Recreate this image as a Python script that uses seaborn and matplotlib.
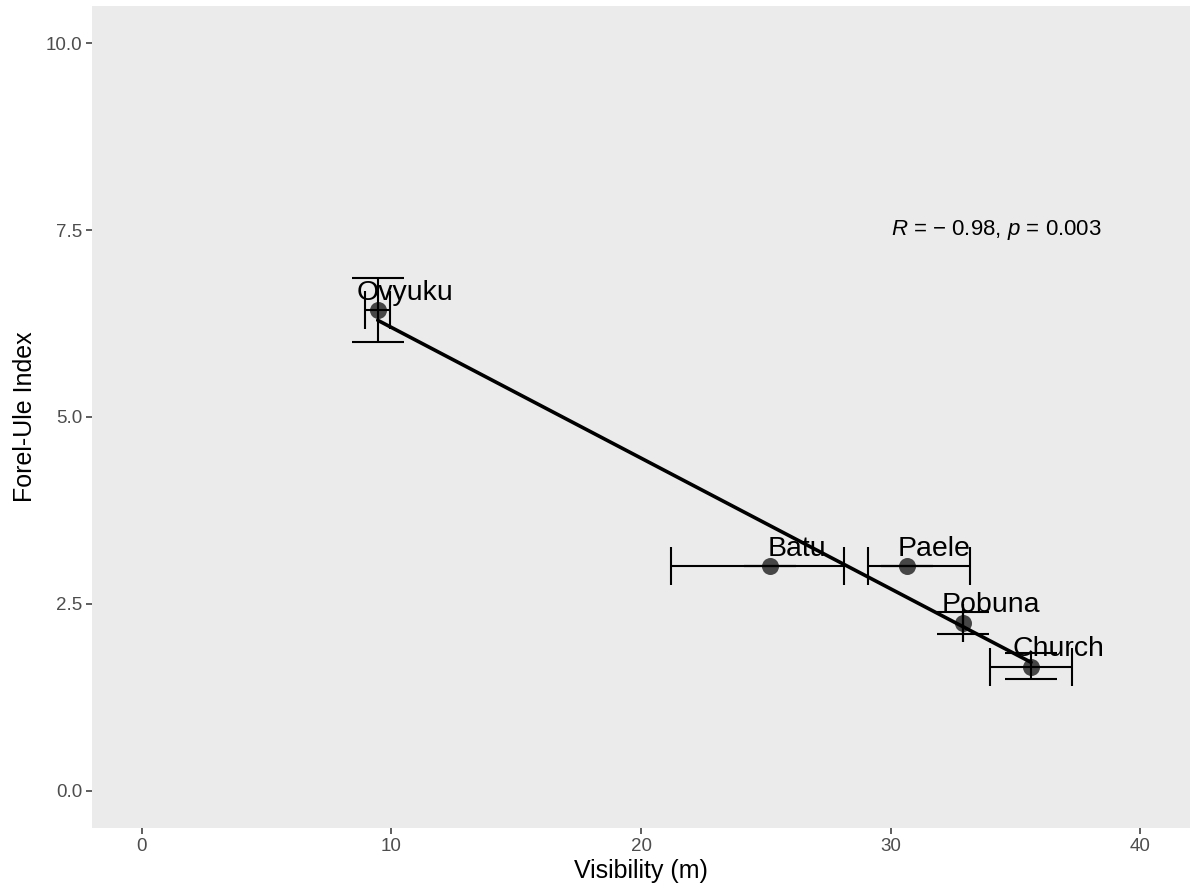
import numpy as np
import pandas as pd
import matplotlib
matplotlib.use("Agg")
import matplotlib.pyplot as plt
import seaborn as sns

# Site means with their ranges
sites = ["Ovyuku", "Batu", "Paele", "Pobuna", "Church"]
visibility = [9.45, 25.15, 30.65, 32.92, 35.63]
vis_low = [8.95, 21.20, 29.08, 32.92, 33.97]
vis_high = [9.95, 28.12, 33.20, 32.92, 37.28]
fui = [6.43, 3.00, 3.00, 2.25, 1.66]
fui_low = [6.00, 3.00, 3.00, 2.10, 1.49]
fui_high = [6.86, 3.00, 3.00, 2.39, 1.84]

x_ticks = [0, 10, 20, 30, 40]
y_ticks = [0.0, 2.5, 5.0, 7.5, 10.0]
x_title = "Visibility (m)"
y_title = "Forel-Ule Index"
stat_text = r"$R$ = − 0.98, $p$ = 0.003"
stat_pos = (30, 7.5)

df = pd.DataFrame({
    "site": sites,
    "vis": visibility, "vis_low": vis_low, "vis_high": vis_high,
    "fui": fui, "fui_low": fui_low, "fui_high": fui_high,
})

sns.set_theme(style="white")
plt.rcParams["font.family"] = ["Liberation Sans", "DejaVu Sans"]
plt.rcParams["mathtext.fontset"] = "custom"
plt.rcParams["mathtext.rm"] = "Liberation Sans"
plt.rcParams["mathtext.it"] = "Liberation Sans:italic"

W, H = 1190, 892
fig = plt.figure(figsize=(W / 100, H / 100), dpi=100)
fig.patch.set_facecolor("white")
ax = fig.add_axes([92 / W, (H - 828) / H, (W - 92) / W, (828 - 6) / H])
ax.set_facecolor("#EBEBEB")

# points
sns.scatterplot(data=df, x="vis", y="fui", ax=ax, color="black", alpha=0.7,
                s=150, linewidth=0, zorder=2, legend=False)

# vertical error bars (Forel-Ule range)
ax.errorbar(df["vis"], df["fui"],
            yerr=[df["fui"] - df["fui_low"], df["fui_high"] - df["fui"]],
            fmt="none", ecolor="black", elinewidth=1.5, capsize=18.4,
            capthick=1.5, zorder=3)
# horizontal error bars (visibility range)
ax.errorbar(df["vis"], df["fui"],
            xerr=[df["vis"] - df["vis_low"], df["vis_high"] - df["vis"]],
            fmt="none", ecolor="black", elinewidth=1.5, capsize=13.7,
            capthick=1.5, zorder=3)

# linear fit
sns.regplot(data=df, x="vis", y="fui", ax=ax, scatter=False, ci=None,
            color="black", truncate=True, line_kws={"lw": 2.6, "zorder": 4})

# site labels
for _, r in df.iterrows():
    ax.text(r["vis"] + 1.1, r["fui"] + 0.14, r["site"], ha="center",
            va="baseline", fontsize=20.5, color="black", zorder=5)

ax.text(stat_pos[0], stat_pos[1], stat_text, ha="left", va="center",
        fontsize=16, color="black", zorder=5)

ax.set_xlim(-2, 42)
ax.set_ylim(-0.5, 10.5)
ax.set_xticks(x_ticks)
ax.set_xticklabels([str(v) for v in x_ticks])
ax.set_yticks(y_ticks)
ax.set_yticklabels([f"{v:.1f}" for v in y_ticks])
ax.tick_params(axis="both", which="major", length=4, width=1.1,
               color="#333333", labelcolor="#4D4D4D", labelsize=13.5,
               direction="out", pad=3, bottom=True, left=True)
ax.set_xlabel(x_title, fontsize=18, color="black", labelpad=3)
ax.set_ylabel(y_title, fontsize=18, color="black", labelpad=6)
ax.grid(False)
for s in ax.spines.values():
    s.set_visible(False)

fig.savefig("out.png", dpi=100, facecolor="white")
